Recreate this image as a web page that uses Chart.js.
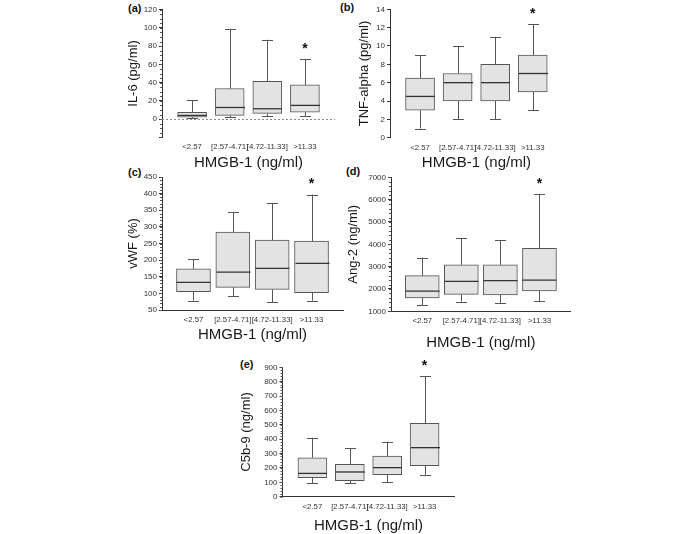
<!DOCTYPE html>
<html>
<head>
<meta charset="utf-8">
<script src="https://cdn.jsdelivr.net/npm/chart.js@4.4.0/dist/chart.umd.min.js"></script>
<style>
body { margin:0; background:#fff; width:685px; height:534px; position:relative; overflow:hidden; font-family:"Liberation Sans", Arial, sans-serif; }
canvas { position:absolute; }
.lab { position:absolute; font-weight:bold; font-size:11px; color:#111; }
</style>
</head>
<body>
<div class="lab" style="left:128px;top:2px">(a)</div>
<div class="lab" style="left:340px;top:1px">(b)</div>
<div class="lab" style="left:128px;top:166px">(c)</div>
<div class="lab" style="left:346px;top:165px">(d)</div>
<div class="lab" style="left:240px;top:358px">(e)</div>
<canvas id="ca"></canvas>
<canvas id="cb"></canvas>
<canvas id="cc"></canvas>
<canvas id="cd"></canvas>
<canvas id="ce"></canvas>
<script>
const groups = ['<2.57', '[2.57-4.71]', '[4.72-11.33]', '>11.33']

// (a) IL-6 (pg/ml)
const il6Low  = [1, 2, 3.3, 3.6]
const il6Q1   = [2, 4, 6.2, 7.6]
const il6Med  = [4, 12.7, 11.3, 15]
const il6Q3   = [7.3, 33.5, 41.5, 37.5]
const il6High = [20.5, 99, 87, 66]

// (b) TNF-alpha (pg/ml)
const tnfLow  = [1, 2, 2, 3]
const tnfQ1   = [3, 4, 4, 5]
const tnfMed  = [4.5, 6, 6, 7]
const tnfQ3   = [6.5, 7, 8, 9]
const tnfHigh = [9, 10, 11, 12.4]

// (c) vWF (%)
const vwfLow  = [78, 92, 73, 78]
const vwfQ1   = [105, 118, 112, 102]
const vwfMed  = [133, 164, 175, 190]
const vwfQ3   = [174, 284, 260, 257]
const vwfHigh = [202, 345, 372, 397]

// (d) Ang-2 (ng/ml)
const angLow  = [1280, 1430, 1370, 1460]
const angQ1   = [1600, 1760, 1730, 1910]
const angMed  = [1900, 2340, 2370, 2400]
const angQ3   = [2600, 3080, 3080, 3820]
const angHigh = [3400, 4270, 4190, 6240]

// (e) C5b-9 (ng/ml)
const c5Low  = [95, 95, 102, 153]
const c5Q1   = [132, 111, 153, 216]
const c5Med  = [162, 172, 202, 341]
const c5Q3   = [271, 225, 283, 510]
const c5High = [410, 337, 383, 840]

// group marked as significant (*)
const starGroup = 3

const boxPlugin = {
  id: 'boxPlot',
  afterDatasetsDraw(chart, args, o) {
    const ctx = chart.ctx
    const x = chart.scales.x, y = chart.scales.y
    const area = chart.chartArea
    ctx.save()
    // minor ticks on y axis
    if (o.minor) {
      ctx.strokeStyle = '#555'
      ctx.lineWidth = 1
      ctx.beginPath()
      for (let v = y.min; v <= y.max + 1e-9; v += o.minor) {
        const py = Math.round(y.getPixelForValue(v)) + 0.5
        ctx.moveTo(area.left - 2, py)
        ctx.lineTo(area.left, py)
      }
      ctx.stroke()
    }
    if (o.zeroLine) {
      const py = Math.round(y.getPixelForValue(0)) + 0.5
      ctx.strokeStyle = '#888'
      ctx.setLineDash([2, 2])
      ctx.beginPath()
      ctx.moveTo(area.left, py)
      ctx.lineTo(area.right, py)
      ctx.stroke()
      ctx.setLineDash([])
    }
    ctx.strokeStyle = '#555'
    ctx.lineWidth = 1
    o.low.forEach((lo, i) => {
      const cx = Math.round(x.getPixelForValue(i + 1)) + 0.5
      const yl = y.getPixelForValue(lo), yh = y.getPixelForValue(o.high[i])
      const y1 = y.getPixelForValue(o.q1[i]), y3 = y.getPixelForValue(o.q3[i])
      ctx.beginPath()
      ctx.moveTo(cx, yl); ctx.lineTo(cx, y1)
      ctx.moveTo(cx, y3); ctx.lineTo(cx, yh)
      ctx.moveTo(cx - o.cap, Math.round(yl) + 0.5); ctx.lineTo(cx + o.cap, Math.round(yl) + 0.5)
      ctx.moveTo(cx - o.cap, Math.round(yh) + 0.5); ctx.lineTo(cx + o.cap, Math.round(yh) + 0.5)
      ctx.stroke()
      const ym = y.getPixelForValue(o.med[i])
      ctx.save()
      ctx.strokeStyle = '#333'
      ctx.lineWidth = 1.3
      ctx.beginPath()
      ctx.moveTo(cx - o.bw / 2, ym); ctx.lineTo(cx + o.bw / 2, ym)
      ctx.stroke()
      ctx.restore()
    })
    const sx = x.getPixelForValue(starGroup + 1)
    const sy = y.getPixelForValue(o.high[starGroup])
    ctx.fillStyle = '#111'
    ctx.font = 'bold 14px "Liberation Sans", Arial'
    ctx.textAlign = 'center'
    ctx.textBaseline = 'middle'
    ctx.fillText('*', sx, sy - 10)
    ctx.restore()
  }
}

function makePanel(id, area, yTitleX, xTitleY, opt) {
  const left = Math.round(yTitleX - 7.8)
  const top = Math.round(area.T - 10)
  const right = Math.round(area.R + 8)
  const bottom = Math.round(xTitleY + 9)
  const cv = document.getElementById(id)
  cv.width = right - left
  cv.height = bottom - top
  cv.style.left = left + 'px'
  cv.style.top = top + 'px'
  const yw = area.L - left
  const xh = bottom - area.B

  new Chart(cv, {
    type: 'bar',
    data: {
      datasets: [{
        data: opt.q1.map((v, i) => ({ x: i + 1, y: [v, opt.q3[i]] })),
        backgroundColor: '#e3e3e3',
        borderColor: '#555',
        borderWidth: 1,
        borderSkipped: false,
        barThickness: opt.bw
      }]
    },
    options: {
      responsive: false,
      animation: false,
      layout: { padding: { top: area.T - top, right: right - area.R, left: 0, bottom: 0 } },
      plugins: {
        legend: { display: false },
        tooltip: { enabled: false },
        boxPlot: opt
      },
      scales: {
        x: {
          type: 'linear',
          offset: false,
          min: 0.2,
          max: 4.8,
          afterBuildTicks: s => { s.ticks = groups.map((g, i) => ({ value: i + 1 })) },
          afterFit: s => { s.height = xh },
          ticks: {
            callback: v => groups[v - 1],
            font: { size: 7.8, family: '"Liberation Sans", Arial' },
            color: '#333',
            padding: 5,
            maxRotation: 0,
            autoSkip: false
          },
          grid: { display: false, drawTicks: false, offset: false },
          border: { display: opt.bottomLine, color: '#333' },
          title: {
            display: true,
            text: 'HMGB-1 (ng/ml)',
            font: { size: 15, family: '"Liberation Sans", Arial' },
            color: '#1a1a1a',
            padding: 0
          }
        },
        y: {
          min: opt.min,
          max: opt.max,
          afterFit: s => { s.width = yw },
          ticks: {
            stepSize: opt.step,
            font: { size: 8, family: '"Liberation Sans", Arial' },
            color: '#333',
            padding: 2,
            callback: v => v < 0 ? '' : v
          },
          grid: { drawOnChartArea: false, tickLength: 3, color: '#333' },
          border: { color: '#333' },
          title: {
            display: true,
            text: opt.yTitle,
            font: { size: 13, family: '"Liberation Sans", Arial' },
            color: '#1a1a1a',
            padding: 0
          }
        }
      }
    },
    plugins: [boxPlugin]
  })
}

makePanel('ca', { L: 162, T: 9.7, R: 335, B: 137.3 }, 133.5, 163, {
  yTitle: 'IL-6 (pg/ml)', min: -20, max: 120, step: 20, minor: 5, zeroLine: true, bottomLine: false,
  low: il6Low, q1: il6Q1, med: il6Med, q3: il6Q3, high: il6High, bw: 29, cap: 5.5
})
makePanel('cb', { L: 390, T: 9.3, R: 562.8, B: 137.7 }, 365, 163, {
  yTitle: 'TNF-alpha (pg/ml)', min: 0, max: 14, step: 2, minor: 0, zeroLine: false, bottomLine: false,
  low: tnfLow, q1: tnfQ1, med: tnfMed, q3: tnfQ3, high: tnfHigh, bw: 29, cap: 5.5
})
makePanel('cc', { L: 162, T: 177, R: 343, B: 310 }, 133.5, 335, {
  yTitle: 'vWF (%)', min: 50, max: 450, step: 50, minor: 10, zeroLine: false, bottomLine: true,
  low: vwfLow, q1: vwfQ1, med: vwfMed, q3: vwfQ3, high: vwfHigh, bw: 34, cap: 5.5
})
makePanel('cd', { L: 391, T: 177.3, R: 570.7, B: 311.3 }, 353.5, 343, {
  yTitle: 'Ang-2 (ng/ml)', min: 1000, max: 7000, step: 1000, minor: 200, zeroLine: false, bottomLine: true,
  low: angLow, q1: angQ1, med: angMed, q3: angQ3, high: angHigh, bw: 34, cap: 5.5
})
makePanel('ce', { L: 282.5, T: 367.3, R: 454.5, B: 496.7 }, 247, 526, {
  yTitle: 'C5b-9 (ng/ml)', min: 0, max: 900, step: 100, minor: 20, zeroLine: false, bottomLine: true,
  low: c5Low, q1: c5Q1, med: c5Med, q3: c5Q3, high: c5High, bw: 29, cap: 5.5
})
</script>
</body>
</html>
